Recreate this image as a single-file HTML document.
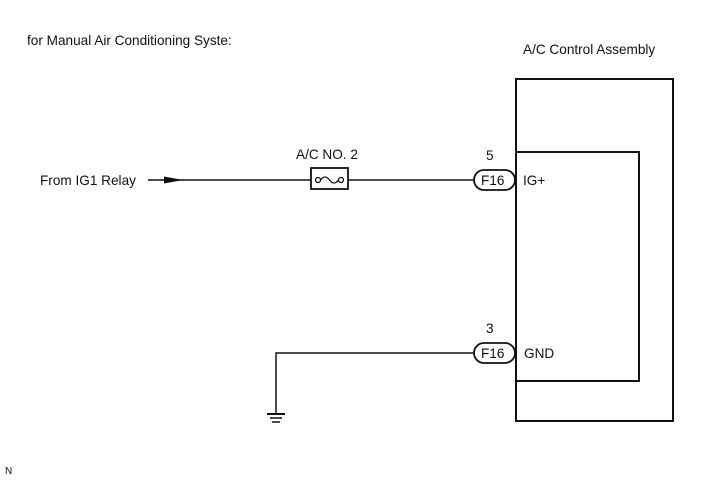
<!DOCTYPE html>
<html><head><style>
html,body{margin:0;padding:0;background:#fff;}
svg{display:block;}
text{font-family:"Liberation Sans",Arial,sans-serif;fill:#111;}
</style></head><body>
<svg width="713" height="481" viewBox="0 0 713 481" xmlns="http://www.w3.org/2000/svg">
<text x="27" y="45" font-size="13.6">for Manual Air Conditioning Syste:</text>
<text x="523" y="54" font-size="13.6">A/C Control Assembly</text>
<rect x="516" y="79" width="157" height="342" fill="none" stroke="#111" stroke-width="2"/>
<rect x="516" y="152" width="123" height="229" fill="none" stroke="#111" stroke-width="2"/>
<text x="40" y="185" font-size="13.6">From IG1 Relay</text>
<line x1="148" y1="180" x2="474" y2="180" stroke="#111" stroke-width="1.5"/>
<polygon points="164,176.5 183,180 164,183.5" fill="#111"/>
<text x="296" y="159" font-size="13.6">A/C NO. 2</text>
<rect x="311" y="168" width="37" height="21" fill="#fff" stroke="#111" stroke-width="1.8"/>
<circle cx="318" cy="180" r="2.5" fill="#fff" stroke="#111" stroke-width="1.3"/>
<circle cx="341" cy="180" r="2.5" fill="#fff" stroke="#111" stroke-width="1.3"/>
<path d="M320.5 180 Q325 174 329.5 180 T338.5 180" fill="none" stroke="#111" stroke-width="1.3"/>
<text x="486" y="160" font-size="13.6">5</text>
<rect x="474" y="170" width="41" height="20" rx="10" fill="#fff" stroke="#111" stroke-width="1.8"/>
<text x="481" y="185" font-size="13.6">F16</text>
<text x="523" y="185" font-size="13.6">IG+</text>
<text x="486" y="333" font-size="13.6">3</text>
<polyline points="474,353 276,353 276,413" fill="none" stroke="#111" stroke-width="1.5"/>
<line x1="267" y1="414" x2="285" y2="414" stroke="#111" stroke-width="2"/>
<line x1="270" y1="418" x2="282" y2="418" stroke="#111" stroke-width="1.5"/>
<line x1="272" y1="422" x2="280" y2="422" stroke="#111" stroke-width="1.5"/>
<rect x="474" y="343" width="41" height="20" rx="10" fill="#fff" stroke="#111" stroke-width="1.8"/>
<text x="481" y="358" font-size="13.6">F16</text>
<text x="524" y="358" font-size="13.6">GND</text>
<text x="5" y="474" font-size="10">N</text>
</svg>
</body></html>
